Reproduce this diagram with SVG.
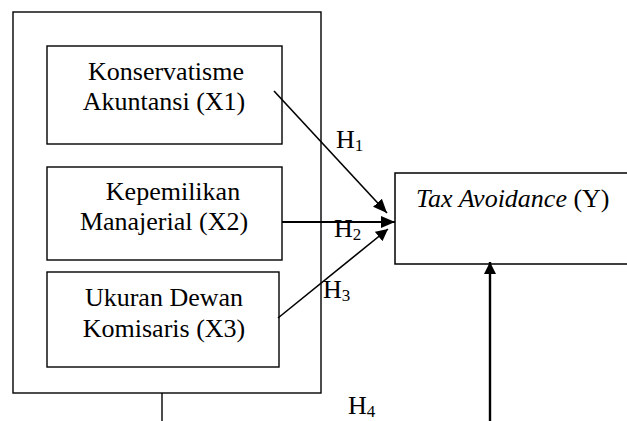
<svg xmlns="http://www.w3.org/2000/svg" width="627" height="421" viewBox="0 0 627 421">
<style>
.box{fill:#fff;stroke:#000;stroke-width:1.4}
.t{font-family:"Liberation Serif","Times New Roman",serif;font-size:26px;fill:#000}
.c{text-anchor:middle}
.sub{font-size:17px}
.ln{stroke:#000;fill:none}
</style>
<defs>
<marker id="ah" markerUnits="userSpaceOnUse" markerWidth="16" markerHeight="14" refX="14" refY="7" orient="auto">
<polygon points="0,1 14,7 0,13" fill="#000"/>
</marker>
<marker id="ah2" markerUnits="userSpaceOnUse" markerWidth="14" markerHeight="14" refX="12" refY="7" orient="auto">
<polygon points="0,1 12,7 0,13" fill="#000"/>
</marker>
</defs>
<g id="outer">
<rect class="box" x="13" y="12" width="308" height="381" fill="none"/>
</g>
<g id="x1">
<rect class="box" x="47" y="46" width="235" height="98"/>
<text class="t c" x="166" y="80">Konservatisme</text>
<text class="t c" x="164" y="110">Akuntansi (X1)</text>
</g>
<g id="x2">
<rect class="box" x="47" y="167" width="235" height="93"/>
<text class="t c" x="173" y="200">Kepemilikan</text>
<text class="t c" x="164" y="230">Manajerial (X2)</text>
</g>
<g id="x3">
<rect class="box" x="47" y="272" width="232" height="95"/>
<text class="t c" x="164" y="306">Ukuran Dewan</text>
<text class="t c" x="164" y="337">Komisaris (X3)</text>
</g>
<g id="y">
<path class="ln" stroke-width="1.5" d="M630,173 H395 V264 H630"/>
<text class="t" x="416" y="207"><tspan font-style="italic">Tax Avoidance</tspan> (Y)</text>
</g>
<g id="connectors">
<line class="ln" stroke-width="1.6" x1="274" y1="91" x2="387" y2="213" marker-end="url(#ah)"/>
<line class="ln" stroke-width="2.2" x1="282" y1="222" x2="395" y2="222" marker-end="url(#ah)"/>
<line class="ln" stroke-width="1.6" x1="278" y1="318" x2="388" y2="229" marker-end="url(#ah2)"/>
<line class="ln" stroke-width="2.4" x1="490" y1="421" x2="490" y2="262" marker-end="url(#ah2)"/>
<line class="ln" stroke-width="1.4" x1="162" y1="393" x2="162" y2="421"/>
</g>
<g id="labels">
<text class="t" x="336" y="148">H<tspan class="sub" dy="3">1</tspan></text>
<text class="t" x="334" y="237">H<tspan class="sub" dy="3">2</tspan></text>
<text class="t" x="323" y="298">H<tspan class="sub" dy="3">3</tspan></text>
<text class="t" x="348" y="414">H<tspan class="sub" dy="3">4</tspan></text>
</g>
</svg>
